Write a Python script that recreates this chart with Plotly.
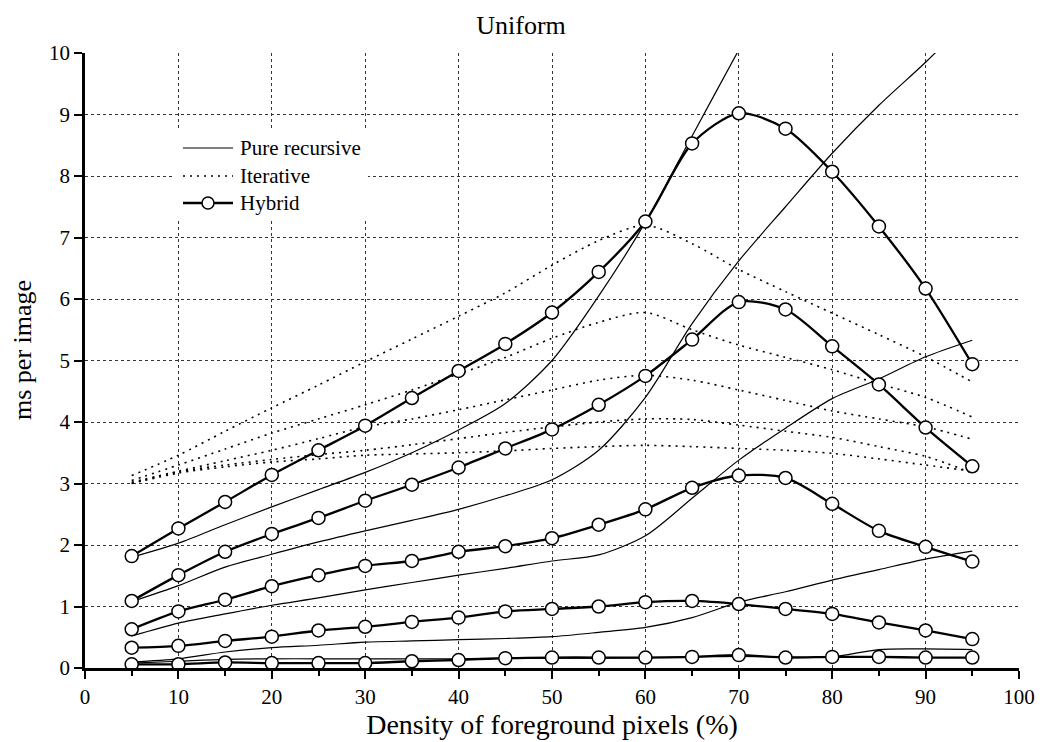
import plotly.graph_objects as go

# Foreground density (%) at which every configuration was timed
density = [5, 10, 15, 20, 25, 30, 35, 40, 45, 50, 55, 60, 65, 70, 75, 80, 85, 90, 95]

# Pure recursive labelling, ms per image (one list per image size)
recursive_1 = [1.80, 2.03, 2.33, 2.62, 2.90, 3.18, 3.50, 3.87, 4.30, 5.00, 6.05, 7.25, 8.65, 10.05, 11.4]
recursive_2 = [1.08, 1.34, 1.64, 1.85, 2.05, 2.23, 2.40, 2.58, 2.80, 3.06, 3.54, 4.40, 5.60, 6.62, 7.50, 8.37, 9.15, 9.85, 10.6]
recursive_3 = [0.52, 0.73, 0.88, 1.02, 1.14, 1.27, 1.39, 1.51, 1.62, 1.74, 1.84, 2.15, 2.76, 3.38, 3.90, 4.38, 4.70, 5.06, 5.33]
recursive_4 = [0.10, 0.15, 0.26, 0.33, 0.37, 0.42, 0.44, 0.46, 0.48, 0.51, 0.58, 0.66, 0.82, 1.07, 1.24, 1.43, 1.60, 1.77, 1.90]
recursive_5 = [0.08, 0.11, 0.14, 0.15, 0.15, 0.15, 0.15, 0.15, 0.16, 0.16, 0.16, 0.17, 0.18, 0.19, 0.18, 0.18, 0.30, 0.31, 0.30]

# Iterative labelling, ms per image
iterative_1 = [3.13, 3.46, 3.85, 4.23, 4.60, 4.98, 5.35, 5.72, 6.10, 6.55, 6.95, 7.20, 6.90, 6.48, 6.12, 5.77, 5.42, 5.06, 4.65]
iterative_2 = [3.05, 3.30, 3.56, 3.82, 4.05, 4.28, 4.52, 4.78, 5.05, 5.36, 5.62, 5.78, 5.50, 5.25, 5.05, 4.85, 4.62, 4.40, 4.08]
iterative_3 = [3.02, 3.20, 3.37, 3.54, 3.73, 3.92, 4.05, 4.20, 4.36, 4.52, 4.68, 4.76, 4.68, 4.52, 4.35, 4.18, 4.05, 3.92, 3.72]
iterative_4 = [3.00, 3.19, 3.30, 3.39, 3.47, 3.54, 3.63, 3.73, 3.83, 3.92, 4.00, 4.05, 4.04, 3.95, 3.85, 3.75, 3.60, 3.44, 3.17]
iterative_5 = [3.00, 3.17, 3.27, 3.35, 3.40, 3.46, 3.48, 3.50, 3.53, 3.57, 3.60, 3.62, 3.60, 3.57, 3.54, 3.49, 3.40, 3.30, 3.20]

# Hybrid labelling, ms per image
hybrid_1 = [1.82, 2.27, 2.70, 3.14, 3.54, 3.94, 4.39, 4.83, 5.27, 5.78, 6.44, 7.26, 8.53, 9.02, 8.77, 8.07, 7.18, 6.17, 4.94]
hybrid_2 = [1.09, 1.51, 1.89, 2.18, 2.44, 2.72, 2.98, 3.26, 3.57, 3.88, 4.28, 4.75, 5.34, 5.95, 5.83, 5.23, 4.61, 3.91, 3.28]
hybrid_3 = [0.63, 0.92, 1.11, 1.33, 1.51, 1.66, 1.74, 1.89, 1.98, 2.11, 2.33, 2.58, 2.93, 3.13, 3.09, 2.67, 2.23, 1.97, 1.73]
hybrid_4 = [0.33, 0.36, 0.44, 0.51, 0.61, 0.67, 0.75, 0.82, 0.92, 0.96, 1.00, 1.07, 1.09, 1.04, 0.96, 0.88, 0.74, 0.61, 0.47]
hybrid_5 = [0.06, 0.06, 0.09, 0.08, 0.08, 0.08, 0.11, 0.13, 0.16, 0.17, 0.17, 0.17, 0.18, 0.21, 0.17, 0.18, 0.18, 0.17, 0.17]

recursive = [recursive_1, recursive_2, recursive_3, recursive_4, recursive_5]
iterative = [iterative_1, iterative_2, iterative_3, iterative_4, iterative_5]
hybrid = [hybrid_1, hybrid_2, hybrid_3, hybrid_4, hybrid_5]

legend_labels = ["Pure recursive", "Iterative", "Hybrid"]

FONT = "Liberation Serif, Times New Roman, serif"

W, H = 1042, 742
ML, MR, MT, MB = 85, 23, 53, 74
PW, PH = W - ML - MR, H - MT - MB

REC_LINE = dict(color="black", width=1.2)
IT_LINE = dict(color="black", width=1.6, dash="2px,5px")
HYB_LINE = dict(color="black", width=2.3)
HYB_MARKER = dict(symbol="circle", size=13, color="white", line=dict(color="black", width=1.5))


def px_x(px):
    """Page pixel column -> paper x."""
    return (px - ML) / PW


def px_y(py):
    """Page pixel row -> paper y."""
    return (H - MB - py) / PH


fig = go.Figure()

for ys in recursive:
    fig.add_trace(go.Scatter(
        x=density[:len(ys)], y=ys, mode="lines", name=legend_labels[0], showlegend=False,
        line=dict(**REC_LINE, shape="spline", smoothing=0.8),
    ))

for ys in iterative:
    fig.add_trace(go.Scatter(
        x=density, y=ys, mode="lines", name=legend_labels[1], showlegend=False,
        line=dict(**IT_LINE, shape="spline", smoothing=0.8),
    ))

for ys in hybrid:
    fig.add_trace(go.Scatter(
        x=density, y=ys, mode="lines+markers", name=legend_labels[2], showlegend=False,
        line=dict(**HYB_LINE, shape="spline", smoothing=0.8),
        marker=HYB_MARKER,
    ))

# Legend key drawn in the upper-left of the plot on a white panel
shapes = [dict(type="rect", xref="paper", yref="paper", layer="above",
               x0=px_x(173), x1=px_x(368), y0=px_y(218), y1=px_y(130),
               fillcolor="white", line=dict(width=0))]
annotations = []
rows = [148, 176, 203]
styles = [REC_LINE, IT_LINE, HYB_LINE]
for label, row, style in zip(legend_labels, rows, styles):
    shapes.append(dict(type="line", xref="paper", yref="paper", layer="above",
                       x0=px_x(183), x1=px_x(233), y0=px_y(row), y1=px_y(row),
                       line=style))
    annotations.append(dict(text=label, xref="paper", yref="paper",
                            x=px_x(238), y=px_y(row), xanchor="left", yanchor="middle",
                            showarrow=False,
                            font=dict(family=FONT, size=21, color="black")))
# circle marker on the Hybrid key line
shapes.append(dict(type="circle", xref="paper", yref="paper", layer="above",
                   xsizemode="pixel", ysizemode="pixel",
                   xanchor=px_x(208), yanchor=px_y(rows[2]),
                   x0=-6, x1=6, y0=-6, y1=6,
                   fillcolor="white", line=dict(color="black", width=1.5)))

# y-axis title placed beside the tick labels
annotations.append(dict(text="ms per image", xref="paper", yref="paper",
                        x=px_x(22), y=px_y(350), xanchor="center", yanchor="middle",
                        textangle=-90, showarrow=False,
                        font=dict(family=FONT, size=26, color="black")))

fig.update_layout(
    width=W, height=H,
    margin=dict(l=ML, r=MR, t=MT, b=MB),
    paper_bgcolor="white", plot_bgcolor="white",
    font=dict(family=FONT, size=21, color="black"),
    title=dict(text="Uniform", x=0.5, xref="container", xanchor="center",
               y=1 - 25 / H, yref="container", yanchor="middle",
               font=dict(family=FONT, size=26, color="black")),
    showlegend=False,
    shapes=shapes,
    annotations=annotations,
)

fig.update_xaxes(
    range=[0, 100], tickmode="array", tickvals=list(range(0, 101, 10)),
    showline=True, linecolor="black", linewidth=2.5, mirror=False,
    ticks="outside", ticklen=8, tickwidth=2, tickcolor="black",
    minor=dict(tickvals=list(range(5, 100, 10)), ticks="outside", ticklen=5,
               tickwidth=2, tickcolor="black", showgrid=False),
    showgrid=True, gridcolor="#333333", gridwidth=1, griddash="dot",
    zeroline=False, automargin=False,
    title=dict(text="Density of foreground pixels (%)", standoff=5,
               font=dict(family=FONT, size=28, color="black")),
    tickfont=dict(family=FONT, size=21, color="black"),
)

fig.update_yaxes(
    range=[0, 10], tickmode="array", tickvals=list(range(0, 11)),
    showline=True, linecolor="black", linewidth=2.5, mirror=False,
    ticks="outside", ticklen=8, tickwidth=2, tickcolor="black",
    showgrid=True, gridcolor="#333333", gridwidth=1, griddash="dot",
    zeroline=False, automargin=False,
    tickfont=dict(family=FONT, size=21, color="black"),
)

fig.write_html("out.html")
